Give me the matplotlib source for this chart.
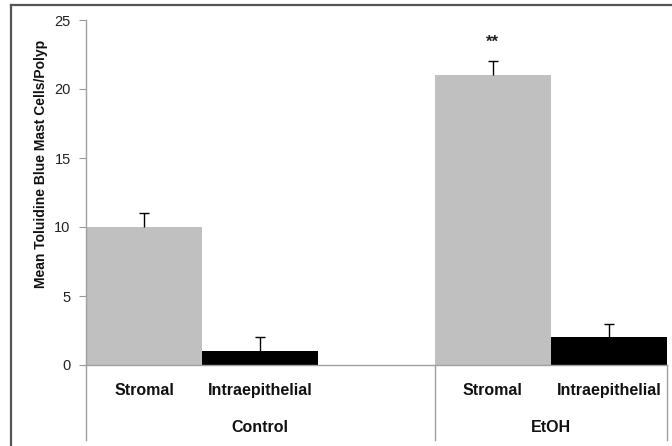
import matplotlib
matplotlib.use("Agg")
import matplotlib.pyplot as plt
from matplotlib.lines import Line2D
import matplotlib.transforms as mtransforms

plt.rcParams['font.family'] = ['Liberation Sans', 'DejaVu Sans']

groups = ["Control", "EtOH"]
subcats = ["Stromal", "Intraepithelial"]
values = [10, 1, 21, 2]
errors = [1, 1, 1, 1]
colors = ["#c0c0c0", "#000000", "#c0c0c0", "#000000"]
positions = [0.5, 1.5, 3.5, 4.5]
group_centers = [1.5, 4.0]
group_edges = [0, 3, 5]
ylabel = "Mean Toluidine Blue Mast Cells/Polyp"
yticks = [0, 5, 10, 15, 20, 25]

W, H = 672, 446
fig = plt.figure(figsize=(W / 100, H / 100), dpi=100)
ax = fig.add_axes([86 / W, (H - 365) / H, (667 - 86) / W, 345 / H])

ax.bar(positions, values, width=1.0, color=colors, edgecolor="none", zorder=2)
tops = [v + e for v, e in zip(values, errors)]
ax.errorbar(positions, values, yerr=[[0] * len(errors), errors], fmt="none",
            ecolor="black", elinewidth=1.0, capsize=0, zorder=3)
ax.plot(positions, tops, linestyle="none", marker="_", markersize=7,
        markeredgewidth=1.0, color="black", zorder=3)

ax.text(3.5, 23.4, "**", ha="center", va="center", fontsize=12, fontweight="bold",
        color="#222222")

ax.set_xlim(0, 5)
ax.set_ylim(0, 25)
ax.set_yticks(yticks)
ax.set_yticklabels([str(t) for t in yticks], fontsize=10.5, color="#222222")
ax.tick_params(axis="y", length=5, color="#999999", width=0.8, pad=6)
ax.set_xticks([])
for s in ["top", "right"]:
    ax.spines[s].set_visible(False)
for s in ["left", "bottom"]:
    ax.spines[s].set_color("#a0a0a0")
    ax.spines[s].set_linewidth(1.0)

fig.text(41.5 / W, 1 - 163.5 / H, ylabel, rotation=90, ha="center", va="center",
         fontsize=10, fontweight="bold", color="#111111")

trans = mtransforms.blended_transform_factory(ax.transData, ax.transAxes)
for x, lab in zip(positions, subcats * 2):
    ax.text(x, -0.073, lab, transform=trans, ha="center", va="center",
            fontsize=11.5, fontweight="bold", color="#111111")
for x, g in zip(group_centers, groups):
    ax.text(x, -0.18, g, transform=trans, ha="center", va="center",
            fontsize=11.5, fontweight="bold", color="#111111")
for x in group_edges:
    ax.add_line(Line2D([x, x], [0, -0.217], transform=trans, color="#a0a0a0",
                       lw=1.0, clip_on=False))

# outer frame (top and left)
fig.add_artist(Line2D([11 / W, 1], [1 - 5 / H, 1 - 5 / H], transform=fig.transFigure,
                      color="#555555", lw=1.6))
fig.add_artist(Line2D([11 / W, 11 / W], [0, 1 - 5 / H], transform=fig.transFigure,
                      color="#555555", lw=1.6))

fig.savefig("out.png", dpi=100, facecolor="white")
